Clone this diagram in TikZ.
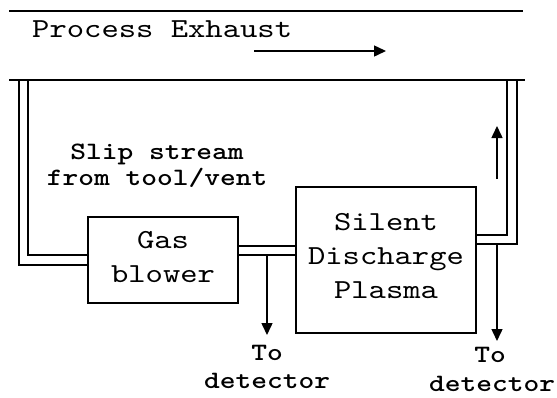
\documentclass[tikz,border=0pt]{standalone}
\usepackage{fontspec}
\usetikzlibrary{arrows.meta}
\newfontfamily\courreg{lmmono10-regular.otf}[FakeStretch=1.2]
\newfontfamily\courbold{lmmonolt10-bold.otf}[FakeStretch=1.2]
\tikzset{
  pipe/.style={line width=1.5pt},
  box/.style={draw, line width=1.5pt, minimum width=150pt, minimum height=86pt},
  flow/.style={line width=1.5pt, -{Triangle[length=12pt,width=11pt]}},
  lbl/.style={font=\courreg\fontsize{27.5}{34}\selectfont, inner sep=0pt, align=center},
  blbl/.style={font=\courbold\fontsize{25}{28}\selectfont, inner sep=0pt, align=center},
}
\begin{document}
\begin{tikzpicture}[x=1pt,y=-1pt]
\useasboundingbox (0,0) rectangle (557,397);
% exhaust duct walls
\coordinate (t1) at (9,11); \coordinate (t2) at (523,11);
\coordinate (b1) at (9,80); \coordinate (b2) at (525,80);
\draw[pipe] (t1) -- (t2);
\draw[pipe] (b1) -- (b2);
\node[lbl, anchor=base west] (pe) at (32,37) {Process Exhaust};
\coordinate (fa1) at (254,51); \coordinate (fa2) at (386,51);
\draw[flow] (fa1) -- (fa2);
% boxes
\node[box, minimum width=150pt, minimum height=86pt] (gb) at (163,260) {};
\node[lbl, anchor=base] (gbt1) at (163,248) {Gas};
\node[lbl, anchor=base] (gbt2) at (163,282) {blower};
\node[box, minimum width=180pt, minimum height=146pt] (sd) at (386,260) {};
\node[lbl, anchor=base] (sdt1) at (386,230) {Silent};
\node[lbl, anchor=base] (sdt2) at (386,264) {Discharge};
\node[lbl, anchor=base] (sdt3) at (386,298) {Plasma};
% left slip stream pipe
\draw[pipe] (19,80) |- (gb.west |- 0,265);
\draw[pipe] (28,80) |- (gb.west |- 0,255);
\node[blbl, anchor=base] (ss1) at (157,159) {Slip stream};
\node[blbl, anchor=base] (ss2) at (157,185) {from tool/vent};
% connecting pipe
\draw[pipe] (gb.east |- 0,246) -- (sd.west |- 0,246);
\draw[pipe] (gb.east |- 0,255) -- (sd.west |- 0,255);
\coordinate (d1s) at (267,255); \coordinate (d1e) at (267,335);
\draw[flow] (d1s) -- (d1e);
\node[blbl, anchor=base] (to1) at (267,360) {To};
\node[blbl, anchor=base] (de1) at (267,388) {detector};
% return pipe
\draw[pipe] (sd.east |- 0,235) -| (507,80);
\draw[pipe] (sd.east |- 0,244) -| (517,80);
\coordinate (d2s) at (497,244); \coordinate (d2e) at (497,341);
\draw[flow] (d2s) -- (d2e);
\node[blbl, anchor=base] (to2) at (490,362) {To};
\node[blbl, anchor=base] (de2) at (492,391) {detector};
\coordinate (u1) at (497,179); \coordinate (u2) at (497,126);
\draw[flow] (u1) -- (u2);
\end{tikzpicture}
\end{document}
